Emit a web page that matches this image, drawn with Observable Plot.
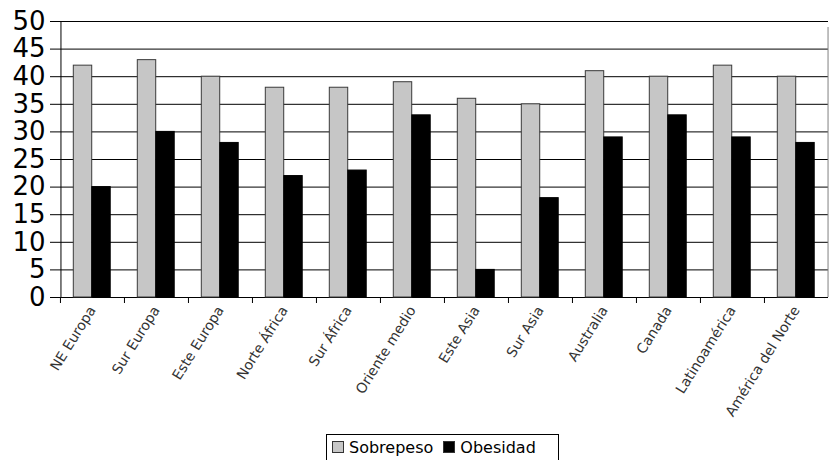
<!DOCTYPE html>
<html>
<head>
<meta charset="utf-8">
<script src="https://cdn.jsdelivr.net/npm/d3@7"></script>
<script src="https://cdn.jsdelivr.net/npm/@observablehq/plot@0.6"></script>
<style>
  html, body { margin: 0; padding: 0; background: #fff; }
  #wrap { position: relative; width: 831px; height: 460px; overflow: hidden; font-family: "DejaVu Sans", sans-serif; }
  #legend { position: absolute; left: 326px; top: 434px; width: 233px; height: 30px; border: 1px solid #000; box-sizing: border-box; display: flex; align-items: center; font-size: 16px; color: #000; padding-left: 5px; padding-bottom: 4px; }
  .sw { display: inline-block; width: 10px; height: 10px; border: 1px solid #333; margin-right: 5px; }
  .item { display: inline-flex; align-items: center; margin-right: 10px; }
</style>
</head>
<body>
<div id="wrap">
  <div id="chart"></div>
  <div id="legend"></div>
</div>
<script>
const regions = ["NE Europa","Sur Europa","Este Europa","Norte África","Sur África","Oriente medio","Este Asia","Sur Asia","Australia","Canada","Latinoamérica","América del Norte"];
const sobrepeso = [42, 43, 40, 38, 38, 39, 36, 35, 41, 40, 42, 40];
const obesidad = [20, 30, 28, 22, 23, 33, 5, 18, 29, 33, 29, 28];
const seriesNames = ["Sobrepeso", "Obesidad"];
const seriesColors = ["#c6c6c6", "#000000"];
const yTicks = [0, 5, 10, 15, 20, 25, 30, 35, 40, 45, 50];

const W = 831, H = 432;
const mL = 59, mR = 3, mT = 21, mB = 135;
const bw = (W - mL - mR) / regions.length;

const data = regions.flatMap((r, i) => [
  {region: r, series: seriesNames[0], value: sobrepeso[i]},
  {region: r, series: seriesNames[1], value: obesidad[i]}
]);

const chart = Plot.plot({
  width: W, height: H,
  marginLeft: mL, marginRight: mR, marginTop: mT, marginBottom: mB,
  style: {fontFamily: "DejaVu Sans, sans-serif", background: "#fff"},
  x: {domain: regions, padding: 0},
  y: {domain: [0, 50]},
  marks: [
    Plot.ruleY(yTicks, {stroke: "#000", strokeWidth: 1, insetLeft: -9}),
    Plot.barY(data.filter(d => d.series === "Sobrepeso"), {
      x: "region", y: "value", fill: seriesColors[0], stroke: "#3a3a3a", strokeWidth: 1,
      insetLeft: 13.3, insetRight: bw - 31.8
    }),
    Plot.barY(data.filter(d => d.series === "Obesidad"), {
      x: "region", y: "value", fill: seriesColors[1], stroke: "#000", strokeWidth: 1,
      insetLeft: 31.8, insetRight: bw - 50.3
    }),
    Plot.ruleX(regions, {x: d => d, dx: -bw / 2, y1: 0, y2: 0, insetBottom: -6, stroke: "#000"}),
    Plot.ruleX(regions.slice(-1), {x: d => d, dx: bw / 2 - 0.5, y1: 0, y2: 50, insetBottom: -6, stroke: "#808080"}),
    Plot.ruleX(regions.slice(0, 1), {x: d => d, dx: -bw / 2 + 0.5, y1: 0, y2: 50, stroke: "#000"}),
    Plot.axisY(yTicks, {tickSize: 0, tickPadding: 14, fontSize: 26, fill: "#000", label: null, anchor: "left"}),
    Plot.axisX({tickSize: 0, tickPadding: 10, tickRotate: -58, fontSize: 14, fill: "#333", label: null})
  ]
});
document.getElementById("chart").appendChild(chart);

const legend = document.getElementById("legend");
seriesNames.forEach((s, i) => {
  const it = document.createElement("span");
  it.className = "item";
  const sw = document.createElement("span");
  sw.className = "sw";
  sw.style.background = seriesColors[i];
  it.appendChild(sw);
  it.appendChild(document.createTextNode(s));
  legend.appendChild(it);
});
</script>
</body>
</html>
